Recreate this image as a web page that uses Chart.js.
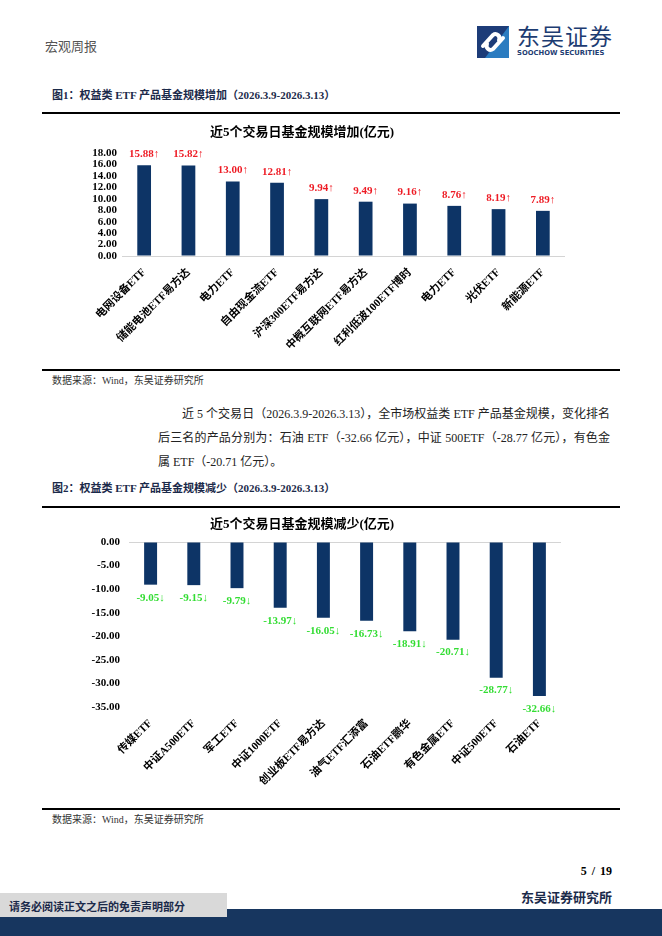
<!DOCTYPE html>
<html>
<head>
<meta charset="utf-8">
<script src="https://cdn.jsdelivr.net/npm/chart.js@4.4.1/dist/chart.umd.min.js"></script>
<style>
  body { margin:0; width:662px; height:936px; position:relative; background:#fff; overflow:hidden;
         font-family:'Liberation Serif','Noto Sans CJK SC',serif; color:#000; }
  .abs { position:absolute; white-space:nowrap; }
  .rule { position:absolute; left:42px; width:578px; height:2px; background:#000; }
  .figtitle { font-size:11px; font-weight:bold; color:#1b2a4a; }
  .src { font-size:10px; color:#333; }
  .body { font-size:12px; color:#222; text-align:justify; text-align-last:justify; }
  canvas { position:absolute; left:42px; }
</style>
</head>
<body>

<!-- header -->
<div class="abs" style="left:45px;top:36px;font-size:13px;color:#555;">宏观周报</div>
<svg class="abs" style="left:477px;top:26px" width="32" height="32" viewBox="0 0 32 32">
  <rect width="32" height="32" fill="#1d3c78"/>
  <polygon points="32,0 32,32 8,32" fill="#2b7cc0"/>
  <g fill="none" stroke="#fff" stroke-width="4" stroke-linecap="round">
    <path d="M6 20 L16 9 A4 4 0 0 1 22 14"/>
    <path d="M26 12 L16 23 A4 4 0 0 1 10 18"/>
  </g>
</svg>
<div class="abs" style="left:517px;top:18px;font-size:23px;color:#1d3c72;font-family:'Noto Sans CJK SC';letter-spacing:1px;">东吴证券</div>
<div class="abs" style="left:517px;top:49px;font-size:6.8px;font-weight:bold;color:#1d3c72;font-family:'DejaVu Sans';">SOOCHOW SECURITIES</div>

<!-- figure 1 -->
<div class="abs figtitle" style="left:52px;top:86px;">图1：权益类 ETF 产品基金规模增加（2026.3.9-2026.3.13）</div>
<div class="rule" style="top:112px;"></div>
<canvas id="chartUp" width="578" height="254" style="top:115px;"></canvas>
<div class="rule" style="top:369px;"></div>
<div class="abs src" style="left:52px;top:372px;">数据来源：Wind，东吴证券研究所</div>

<!-- paragraph -->
<div class="abs body" style="left:182px;top:404px;width:428px;">近 5 个交易日（2026.3.9-2026.3.13），全市场权益类 ETF 产品基金规模，变化排名</div>
<div class="abs body" style="left:158px;top:428px;width:452px;">后三名的产品分别为：石油 ETF（-32.66 亿元），中证 500ETF（-28.77 亿元），有色金</div>
<div class="abs body" style="left:158px;top:452px;text-align-last:left;">属 ETF（-20.71 亿元）。</div>

<!-- figure 2 -->
<div class="abs figtitle" style="left:52px;top:479px;">图2：权益类 ETF 产品基金规模减少（2026.3.9-2026.3.13）</div>
<div class="rule" style="top:506px;"></div>
<canvas id="chartDown" width="578" height="300" style="top:508px;"></canvas>
<div class="rule" style="top:808px;"></div>
<div class="abs src" style="left:52px;top:811px;">数据来源：Wind，东吴证券研究所</div>

<!-- footer -->
<div class="abs" style="right:50px;top:864px;font-size:12px;font-weight:bold;word-spacing:2px;">5 / 19</div>
<div class="abs" style="right:50px;top:887px;font-size:13px;font-weight:bold;color:#1b2a4a;">东吴证券研究所</div>
<div class="abs" style="left:0;top:909px;width:662px;height:27px;background:#17365f;"></div>
<div class="abs" style="left:0;top:893px;width:227px;height:24px;background:#d9d9d9;"></div>
<div class="abs" style="left:9px;top:898px;font-size:11px;font-weight:bold;color:#1b2a4a;">请务必阅读正文之后的免责声明部分</div>

<script>
// 图1 数据
const upTitle = '近5个交易日基金规模增加(亿元)';
const upNames = ['电网设备ETF', '储能电池ETF易方达', '电力ETF', '自由现金流ETF', '沪深300ETF易方达',
                 '中概互联网ETF易方达', '红利低波100ETF博时', '电力ETF', '光伏ETF', '新能源ETF'];
const upValues = [15.88, 15.82, 13.00, 12.81, 9.94, 9.49, 9.16, 8.76, 8.19, 7.89];

// 图2 数据
const downTitle = '近5个交易日基金规模减少(亿元)';
const downNames = ['传媒ETF', '中证A500ETF', '军工ETF', '中证1000ETF', '创业板ETF易方达',
                   '油气ETF汇添富', '石油ETF鹏华', '有色金属ETF', '中证500ETF', '石油ETF'];
const downValues = [-9.05, -9.15, -9.79, -13.97, -16.05, -16.73, -18.91, -20.71, -28.77, -32.66];

const fontFam = "'Liberation Serif','Noto Sans CJK SC',serif";
const barColor = '#0d3466';

// 柱子上的数值标签 + 标题
const labelPlugin = {
  id: 'valueLabels',
  afterDatasetsDraw(chart) {
    const ctx = chart.ctx;
    const ds = chart.data.datasets[0].data;
    ctx.save();
    ctx.font = 'bold 11px ' + fontFam;
    ctx.textAlign = 'center';
    ctx.textBaseline = 'middle';
    chart.getDatasetMeta(0).data.forEach((bar, i) => {
      const v = ds[i];
      if (v >= 0) {
        ctx.fillStyle = '#ee1c25';
        ctx.fillText(v.toFixed(2) + '↑', bar.x, bar.y - 11);
      } else {
        ctx.fillStyle = '#33dd33';
        ctx.fillText(v.toFixed(2) + '↓', bar.x, bar.y + 13);
      }
    });
    // 标题
    ctx.fillStyle = '#000';
    ctx.font = 'bold 13px ' + fontFam;
    const t = chart.options.plugins.myTitle;
    ctx.fillText(t.text, t.x, t.y);
    ctx.restore();
  }
};

function makeChart(id, names, values, title, opts) {
  return new Chart(document.getElementById(id), {
    type: 'bar',
    data: {
      labels: names,
      datasets: [{ data: values, backgroundColor: barColor, barPercentage: opts.barPct, categoryPercentage: 1 }]
    },
    options: {
      responsive: false,
      animation: false,
      layout: { padding: { top: opts.top, right: opts.right, left: 0, bottom: 0 } },
      plugins: {
        legend: { display: false },
        tooltip: { enabled: false },
        myTitle: { text: title, x: 260, y: opts.titleY }
      },
      scales: {
        x: {
          grid: { display: false },
          border: { display: false },
          ticks: { autoSkip: false, maxRotation: 45, minRotation: 45, color: '#000', padding: 2,
                   font: { family: fontFam, size: 11, weight: 'bold' } },
          afterFit(s) { s.height = opts.xHeight; }
        },
        y: {
          min: opts.min, max: opts.max,
          border: { display: false },
          grid: { drawTicks: false, lineWidth: 1,
                  color: c => (c.tick && c.tick.value === 0) ? '#d4d4d4' : 'rgba(0,0,0,0)' },
          ticks: { stepSize: opts.step, autoSkip: false, padding: opts.tickPad, color: '#000',
                   font: { family: fontFam, size: 11, weight: 'bold' },
                   callback: v => Number(v).toFixed(2) },
          afterFit(s) { s.width = opts.yWidth; }
        }
      }
    },
    plugins: [labelPlugin]
  });
}

makeChart('chartUp', upNames, upValues, upTitle,
  { barPct: 0.31, top: 38, right: 55, xHeight: 113, yWidth: 80, tickPad: 5, min: 0, max: 18, step: 2, titleY: 18 });

makeChart('chartDown', downNames, downValues, downTitle,
  { barPct: 0.30, top: 34, right: 59, xHeight: 101, yWidth: 87, tickPad: 9, min: -35, max: 0, step: 5, titleY: 17 });
</script>
</body>
</html>
